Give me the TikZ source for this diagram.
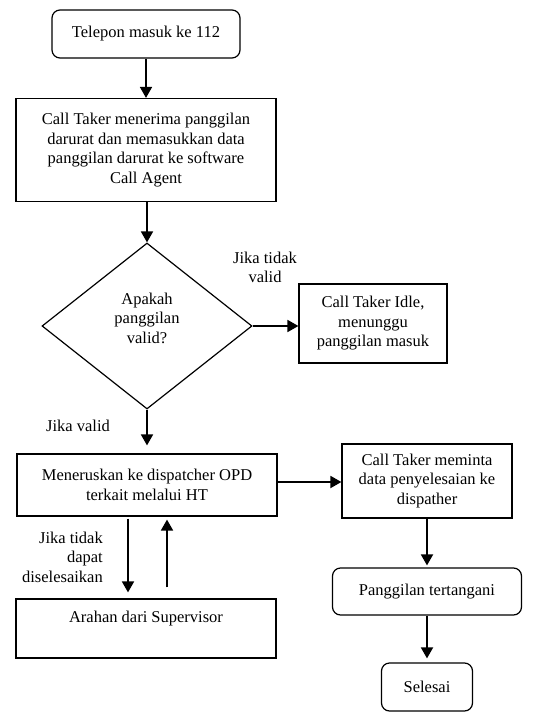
\documentclass[tikz,border=0pt]{standalone}
\usepackage{fontspec}
\setmainfont{Liberation Serif}
\usetikzlibrary{shapes.geometric,arrows.meta,calc}
\begin{document}
\begin{tikzpicture}[x=1pt,y=-1pt,
  every node/.style={font=\rmfamily\fontsize{16.5}{19.5}\selectfont, align=center, inner sep=0pt},
  box/.style={draw, line width=1.2pt},
  rbox/.style={box, rounded corners=8pt},
  arr/.style={line width=1.8pt, -{Triangle[length=11pt,width=12pt]}}]
\useasboundingbox (0,0) rectangle (538,714);
% nodes
\node[rbox, minimum width=188pt, minimum height=48pt] (b1) at (146,34) {Telepon masuk ke 112};
\node[box, minimum width=260pt, minimum height=103pt] (b2) at (146,150) {Call Taker menerima panggilan\\darurat dan memasukkan data\\panggilan darurat ke software\\Call Agent};
\node[draw, diamond, line width=1.2pt, minimum width=210pt, minimum height=166pt] (d) at (147,326) {};
\node (dt) at (147,318) {Apakah\\panggilan\\valid?};
\node[box, minimum width=148pt, minimum height=79pt] (idle) at (373,323.5) {Call Taker Idle,\\menunggu\\panggilan masuk};
\node[box, minimum width=260pt, minimum height=62pt] (m) at (147,485) {Meneruskan ke dispatcher OPD\\terkait melalui HT};
\node[box, minimum width=170pt, minimum height=74pt] (ct) at (427,481) {Call Taker meminta\\data penyelesaian ke\\dispather};
\node[rbox, minimum width=189pt, minimum height=47pt] (pt) at (427,591.5) {Panggilan tertangani};
\node[rbox, minimum width=91pt, minimum height=48pt] (sel) at (427,687) {Selesai};
\node[box, minimum width=260pt, minimum height=59pt] (ar) at (146,628.5) {};
\node (art) at (146,619) {Arahan dari Supervisor};
% labels
\node (l1) at (265,267.5) {Jika tidak\\valid};
\node (l2) at (78,426) {Jika valid};
\node[anchor=east, align=right] (l3) at (103,557) {Jika tidak\\dapat\\diselesaikan};
% connectors
\draw[arr] (b1) -- (b2);
\draw[arr] (b2.south -| d.north) -- (d.north);
\draw[arr] (d.east) -- (d.east -| idle.west);
\draw[arr, shorten >=8pt] (d.south) -- (d.south |- m.north);
\draw[arr] ([yshift=3pt]m.east) -- ([yshift=3pt]m.east -| ct.west);
\draw[arr] ($(ar.north |- m.south)+(-18,2)$) -- ($(ar.north)+(-18,-6)$);
\draw[arr] ($(ar.north)+(21,-11)$) -- ($(ar.north |- m.south)+(21,3)$);
\draw[arr, shorten >=2pt] (ct.south) -- (ct.south |- pt.north);
\draw[arr, shorten >=4pt] (pt.south) -- (pt.south |- sel.north);
\end{tikzpicture}
\end{document}
